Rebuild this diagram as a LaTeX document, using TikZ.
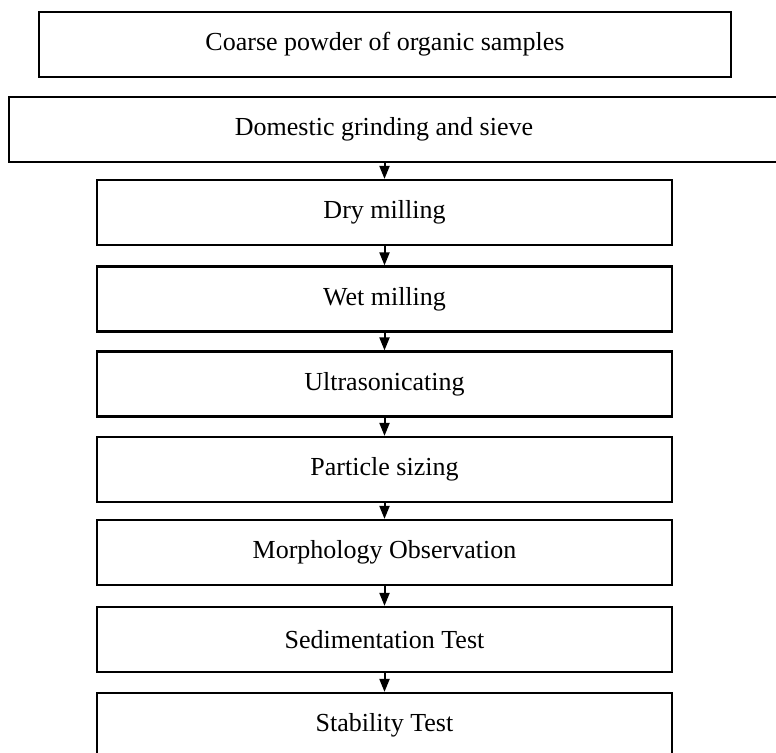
\documentclass[tikz,border=0pt]{standalone}
\usepackage{fontspec}
\setmainfont{Liberation Serif}
\usetikzlibrary{arrows.meta}

\begin{document}
\begin{tikzpicture}[x=0.5pt,y=-0.5pt,
    stepbox/.style={draw, line width=1.1pt, minimum height=32.5pt,
      minimum width=287.5pt, inner sep=0pt,
      font=\fontsize{13}{15}\selectfont},
    flow/.style={line width=1pt, -{Triangle[width=5pt,length=6.5pt]}}]
      \useasboundingbox (0,0) rectangle (776,753);
      \clip (0,0) rectangle (776,753);

       % top boxes
      \node[stepbox, minimum width=346pt] (coarse) at (385,44.5) {Coarse powder of organic samples};
      \node[stepbox, minimum width=390.5pt] (grind) at (399.5,129.5) {};
      \node[font=\fontsize{13}{15}\selectfont] (grindtxt) at (384,129.5) {Domestic grinding and sieve};

       % process steps
      \node[stepbox] (dry) at (384.5,212.5) {Dry milling};
      \node[stepbox] (wet) at (384.5,299) {Wet milling};
      \node[stepbox] (ultra) at (384.5,384) {Ultrasonicating};
      \node[stepbox] (size) at (384.5,469.5) {Particle sizing};
      \node[stepbox] (morph) at (384.5,552.5) {Morphology Observation};
      \node[stepbox] (sedim) at (384.5,639.5) {Sedimentation Test};
      \node[stepbox] (stab) at (384.5,725.5) {Stability Test};

       % arrows
      \draw[flow] (dry.north |- grind.south) -- (dry.north);
      \draw[flow] (dry) -- (wet);
      \draw[flow] (wet) -- (ultra);
      \draw[flow] (ultra) -- (size);
      \draw[flow] (size) -- (morph);
      \draw[flow] (morph) -- (sedim);
      \draw[flow] (sedim) -- (stab);
    \end{tikzpicture}
\end{document}
